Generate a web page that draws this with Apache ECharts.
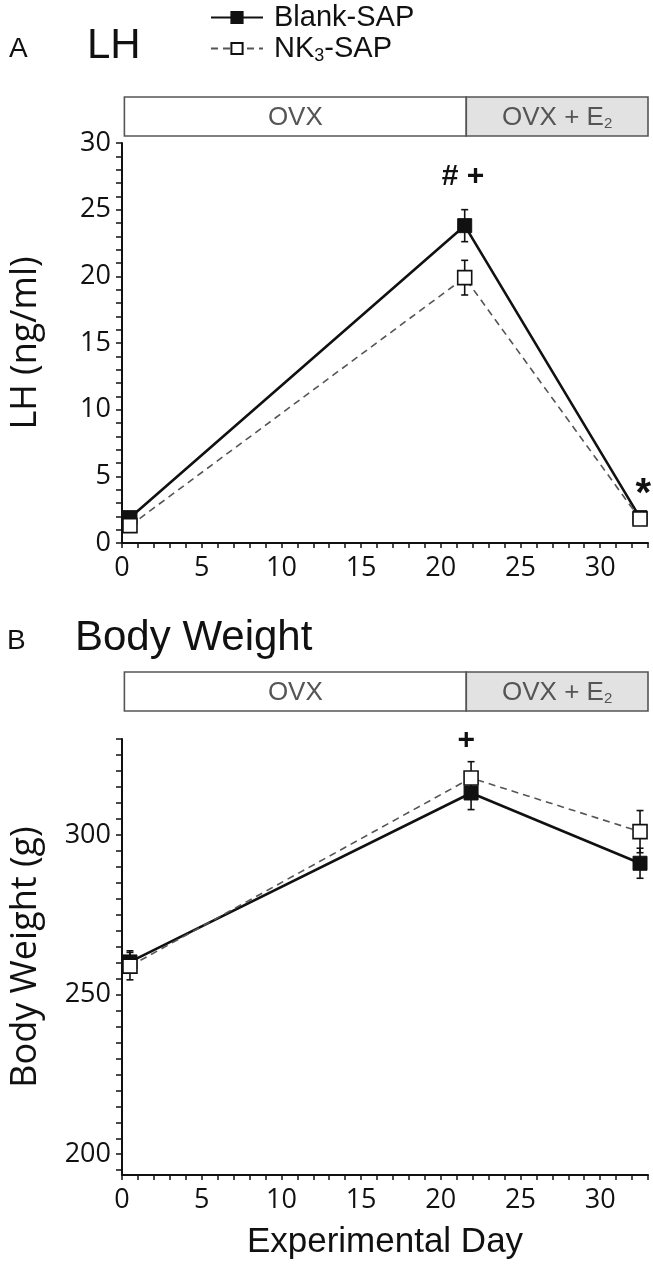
<!DOCTYPE html>
<html>
<head>
<meta charset="utf-8">
<script src="https://cdn.jsdelivr.net/npm/echarts@6/dist/echarts.min.js"></script>
<style>html,body{margin:0;padding:0;background:#fff;}#c{width:653px;height:1286px;}</style>
</head>
<body>
<div id="c"></div>
<script>
// ---- data ----
const lhDays = [0.5, 21.5, 32.5];
const lhBlank = [1.9, 23.8, 1.9];
const lhBlankSem = [0.3, 1.2, 0.2];
const lhNk3 = [1.3, 19.9, 1.8];
const lhNk3Sem = [0.3, 1.3, 0.2];

const bwDays = [0.5, 21.9, 32.5];
const bwBlank = [260.2, 313.1, 291.1];
const bwBlankSem = [3.5, 5.2, 4.7];
const bwNk3 = [258.9, 317.8, 301.0];
const bwNk3Sem = [4.3, 5.1, 6.6];

const phaseLabels = ['OVX', 'OVX + E{sub|2}'];
const phaseStart = [0.15, 21.6];
const phaseEnd = [21.6, 33];

const dayTicks = [0,1,2,3,4,5,6,7,8,9,10,11,12,13,14,15,16,17,18,19,20,21,22,23,24,25,26,27,28,29,30,31,32,33];
const dayLabels = [0,5,10,15,20,25,30];
const lhTicks = [0,1,2,3,4,5,6,7,8,9,10,11,12,13,14,15,16,17,18,19,20,21,22,23,24,25,26,27,28,29,30];
const lhLabels = [0,5,10,15,20,25,30];
const bwTicks = [195,200,205,210,215,220,225,230,235,240,245,250,255,260,265,270,275,280,285,290,295,300,305,310,315,320,325,330];
const bwLabels = [200,250,300];

const annotTopDays = [21.4, 32.7];
const annotTopVals = [27.5, 3.6];
const annotTopText = ['# +', '*'];
const annotBotDays = [21.6];
const annotBotVals = [329.5];
const annotBotText = ['+'];

// ---- chart ----
const INK = '#111';
const SANS = '"Liberation Sans", Arial, sans-serif';
const TICKF = '"Open Sans", sans-serif';

function xAxisDef(grid, show) {
  return {
    type: 'value', gridIndex: grid, min: 0, max: 33, show: show,
    name: grid === 1 ? 'Experimental Day' : '',
    nameLocation: 'middle', nameGap: 50,
    nameTextStyle: {fontFamily: SANS, fontSize: 35, color: INK},
    axisLine: {show: true, onZero: false, lineStyle: {color: INK, width: 2}},
    axisTick: {show: true, length: 5, customValues: dayTicks, lineStyle: {color: INK, width: 1.5}},
    axisLabel: {show: true, customValues: dayLabels, margin: 12, fontFamily: TICKF, fontSize: 27, color: INK},
    splitLine: {show: false}
  };
}
function yAxisDef(grid, min, max, ticks, labels, name) {
  return {
    type: 'value', gridIndex: grid, min: min, max: max,
    name: name, nameLocation: 'middle', nameGap: 78,
    nameTextStyle: {fontFamily: TICKF, fontSize: 36, color: INK},
    axisLine: {show: true, onZero: false, lineStyle: {color: INK, width: 2}},
    axisTick: {show: true, length: 6, customValues: ticks, lineStyle: {color: INK, width: 1.5}},
    axisLabel: {show: true, customValues: labels, margin: 11, fontFamily: TICKF, fontSize: 27, color: INK},
    splitLine: {show: false}
  };
}
function hidden(grid, min, max) {
  return {type: 'value', gridIndex: grid, min: min, max: max, show: false};
}

function errData(days, vals, sem) {
  return days.map((d, i) => [d, vals[i] - sem[i], vals[i] + sem[i]]);
}
function errSeries(xi, yi, data, z) {
  return {
    type: 'custom', xAxisIndex: xi, yAxisIndex: yi, z: z, clip: false, silent: true,
    data: data,
    renderItem: function (params, api) {
      const x = api.value(0), lo = api.value(1), hi = api.value(2);
      const p1 = api.coord([x, hi]), p2 = api.coord([x, lo]);
      const cap = 3.5;
      const st = {stroke: INK, lineWidth: 1.6};
      return {type: 'group', children: [
        {type: 'line', shape: {x1: p1[0], y1: p1[1], x2: p2[0], y2: p2[1]}, style: st},
        {type: 'line', shape: {x1: p1[0] - cap, y1: p1[1], x2: p1[0] + cap, y2: p1[1]}, style: st},
        {type: 'line', shape: {x1: p2[0] - cap, y1: p2[1], x2: p2[0] + cap, y2: p2[1]}, style: st}
      ]};
    }
  };
}
function blankSeries(xi, yi, days, vals) {
  return {
    name: 'Blank-SAP', type: 'line', xAxisIndex: xi, yAxisIndex: yi, z: 3,
    data: days.map((d, i) => [d, vals[i]]),
    symbol: 'rect', symbolSize: 14, showAllSymbol: true,
    lineStyle: {color: INK, width: 2.6, type: 'solid'},
    itemStyle: {color: INK, borderColor: INK, borderWidth: 1},
    emphasis: {disabled: true}
  };
}
function nkSeries(xi, yi, days, vals) {
  return {
    name: 'NK3-SAP', type: 'line', xAxisIndex: xi, yAxisIndex: yi, z: 4,
    data: days.map((d, i) => [d, vals[i]]),
    symbol: 'rect', symbolSize: 14, showAllSymbol: true,
    lineStyle: {color: '#555', width: 1.6, type: [7, 5]},
    itemStyle: {color: '#fff', borderColor: INK, borderWidth: 1.6},
    emphasis: {disabled: true}
  };
}
function annotSeries(xi, yi, days, vals, texts, sizes) {
  return {
    type: 'custom', xAxisIndex: xi, yAxisIndex: yi, z: 6, clip: false, silent: true,
    data: days.map((d, i) => [d, vals[i]]),
    renderItem: function (params, api) {
      const i = params.dataIndex;
      const p = api.coord([api.value(0), api.value(1)]);
      return {type: 'text', x: p[0], y: p[1],
        style: {text: texts[i], align: 'center', verticalAlign: 'middle',
          fontFamily: SANS, fontWeight: 'bold', fontSize: sizes[i], fill: INK}};
    }
  };
}
function phaseSeries(xi, yi) {
  return {
    type: 'custom', xAxisIndex: xi, yAxisIndex: yi, clip: false, silent: true,
    data: phaseLabels.map((l, i) => [phaseStart[i], phaseEnd[i]]),
    renderItem: function (params, api) {
      const i = params.dataIndex;
      const a = api.coord([api.value(0), 1]);
      const b = api.coord([api.value(1), 0]);
      return {type: 'group', children: [
        {type: 'rect', shape: {x: a[0], y: a[1], width: b[0] - a[0], height: b[1] - a[1]},
          style: {fill: i === 0 ? '#ffffff' : '#e2e2e2', stroke: '#555', lineWidth: 1.6}},
        {type: 'text', x: (a[0] + b[0]) / 2, y: (a[1] + b[1]) / 2 + 1,
          style: {text: phaseLabels[i], align: 'center', verticalAlign: 'middle',
            fontFamily: SANS, fontSize: 26, fill: '#555',
            rich: {sub: {fontFamily: SANS, fontSize: 15, fill: '#555', verticalAlign: 'bottom', padding: [12, 0, 0, 0]}}}}
      ]};
    }
  };
}

const chart = echarts.init(document.getElementById('c'), null, {renderer: 'canvas'});
chart.setOption({
  animation: false,
  backgroundColor: '#fff',
  title: [
    {text: 'A', left: 4, top: 30, textStyle: {fontFamily: SANS, fontSize: 28, fontWeight: 'normal', color: INK}},
    {text: 'LH', left: 82, top: 20, textStyle: {fontFamily: SANS, fontSize: 42, fontWeight: 'normal', color: INK}},
    {text: 'B', left: 2, top: 622, textStyle: {fontFamily: SANS, fontSize: 28, fontWeight: 'normal', color: INK}},
    {text: 'Body Weight', left: 70, top: 612, textStyle: {fontFamily: SANS, fontSize: 42, fontWeight: 'normal', color: INK}}
  ],
  legend: {
    orient: 'vertical', left: 205, top: -2, itemWidth: 52, itemHeight: 14, itemGap: 2,
    data: ['Blank-SAP', 'NK3-SAP'],
    formatter: n => n === 'NK3-SAP' ? 'NK{sub|3}-SAP' : n,
    textStyle: {fontFamily: SANS, fontSize: 29, color: INK, padding: [0, 0, 0, 6],
      rich: {sub: {fontFamily: SANS, fontSize: 18, color: INK, verticalAlign: 'bottom', padding: [16, 0, 0, 0]}}},
    selectedMode: false
  },
  grid: [
    {left: 122, top: 143, width: 526, height: 400},
    {left: 122, top: 739, width: 526, height: 436},
    {left: 122, top: 97, width: 526, height: 39},
    {left: 122, top: 672, width: 526, height: 39}
  ],
  xAxis: [xAxisDef(0, true), xAxisDef(1, true), hidden(2, 0, 33), hidden(3, 0, 33)],
  yAxis: [
    yAxisDef(0, 0, 30, lhTicks, lhLabels, 'LH (ng/ml)'),
    yAxisDef(1, 193.5, 330, bwTicks, bwLabels, 'Body Weight (g)'),
    hidden(2, 0, 1), hidden(3, 0, 1)
  ],
  series: [
    errSeries(0, 0, errData(lhDays, lhBlank, lhBlankSem), 1),
    errSeries(0, 0, errData(lhDays, lhNk3, lhNk3Sem), 1),
    blankSeries(0, 0, lhDays, lhBlank),
    nkSeries(0, 0, lhDays, lhNk3),
    annotSeries(0, 0, annotTopDays, annotTopVals, annotTopText, [30, 40]),
    errSeries(1, 1, errData(bwDays, bwBlank, bwBlankSem), 1),
    errSeries(1, 1, errData(bwDays, bwNk3, bwNk3Sem), 1),
    blankSeries(1, 1, bwDays, bwBlank),
    nkSeries(1, 1, bwDays, bwNk3),
    annotSeries(1, 1, annotBotDays, annotBotVals, annotBotText, [30]),
    phaseSeries(2, 2),
    phaseSeries(3, 3)
  ]
});
</script>
</body>
</html>
